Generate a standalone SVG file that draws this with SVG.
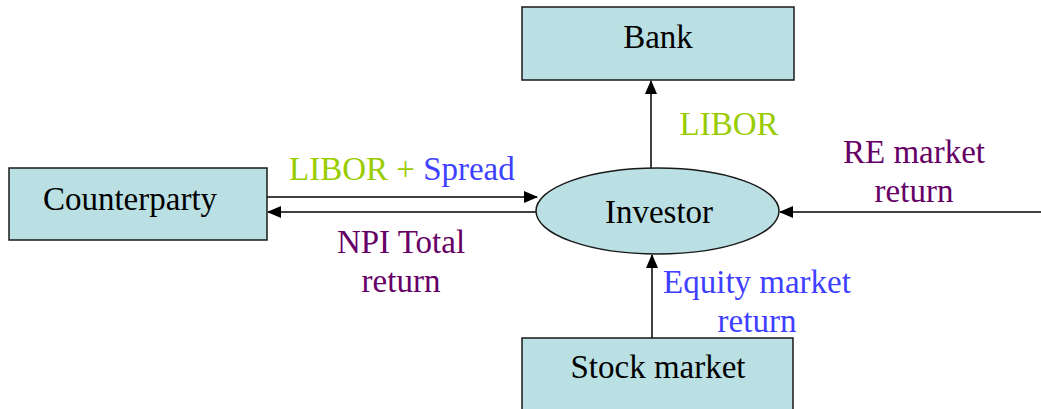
<svg xmlns="http://www.w3.org/2000/svg" width="1041" height="409" viewBox="0 0 1041 409">
<style>
.box{fill:#BBE0E3;stroke:#1a1a1a;stroke-width:1.5}
.lbl{font-family:"Liberation Serif","Times New Roman",serif;font-size:33px;fill:#000;text-anchor:middle}
.t{font-family:"Liberation Serif","Times New Roman",serif;font-size:33px}
.g{fill:#99CC00}.b{fill:#3F3FFF}.p{fill:#660066}
.c{stroke:#000;stroke-width:1.5;fill:none;marker-end:url(#ah)}
</style>
<defs>
<marker id="ah" markerWidth="14" markerHeight="12" refX="13" refY="6" orient="auto" markerUnits="userSpaceOnUse">
<path d="M0,0 L14,6 L0,12 Z" fill="#000"/>
</marker>
</defs>
<rect width="1041" height="409" fill="#fff"/>
<g id="connectors">
<line class="c" x1="267" y1="197" x2="537" y2="197"/>
<line class="c" x1="537" y1="212" x2="268" y2="212"/>
<line class="c" x1="651" y1="168" x2="651" y2="81"/>
<line class="c" x1="1041" y1="212" x2="780" y2="212"/>
<line class="c" x1="652" y1="338" x2="652" y2="255"/>
</g>
<g id="labels">
<text class="t" x="289" y="180"><tspan class="g">LIBOR + </tspan><tspan class="b">Spread</tspan></text>
<text class="t p" x="401" y="253" text-anchor="middle">NPI Total</text>
<text class="t p" x="401" y="292" text-anchor="middle">return</text>
<text class="t g" x="729" y="135" text-anchor="middle">LIBOR</text>
<text class="t p" x="914" y="163" text-anchor="middle">RE market</text>
<text class="t p" x="914" y="202" text-anchor="middle">return</text>
<text class="t b" x="757" y="293" text-anchor="middle">Equity market</text>
<text class="t b" x="757" y="332" text-anchor="middle">return</text>
</g>
<g id="counterparty">
<rect class="box" x="9" y="168" width="258" height="72"/>
<text class="lbl" x="130" y="210">Counterparty</text>
</g>
<g id="bank">
<rect class="box" x="522" y="7" width="272" height="73"/>
<text class="lbl" x="658" y="48">Bank</text>
</g>
<g id="investor">
<ellipse class="box" cx="657.5" cy="211" rx="121.5" ry="43"/>
<text class="lbl" x="659" y="223">Investor</text>
</g>
<g id="stock-market">
<rect class="box" x="522" y="338" width="271" height="80"/>
<text class="lbl" x="658" y="378">Stock market</text>
</g>
</svg>
